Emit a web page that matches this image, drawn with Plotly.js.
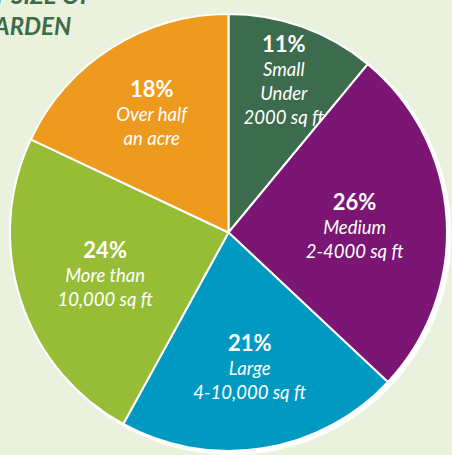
<!DOCTYPE html>
<html>
<head>
<meta charset="utf-8">
<script src="https://cdn.plot.ly/plotly-3.0.1.min.js"></script>
<style>html,body{margin:0;padding:0;background:#eaf1dc;}#chart{width:452px;height:455px;}</style>
</head>
<body>
<div id="chart"></div>
<script>
// Data
const categories = ["Small<br>Under<br>2000 sq ft", "Medium<br>2-4000 sq ft", "Large<br>4-10,000 sq ft", "More than<br>10,000 sq ft", "Over half<br>an acre"];
const percentages = [11, 26, 21, 24, 18];
const sliceColors = ["#3d6b4d", "#7b1674", "#0099c1", "#97bc35", "#ee9a1f"];
const titleLines = ["BY SIZE OF", "GARDEN"];

const trace = {
  type: "pie",
  labels: categories,
  values: percentages,
  sort: false,
  direction: "clockwise",
  rotation: 0,
  marker: { colors: sliceColors, line: { color: "#ffffff", width: 2 } },
  texttemplate: '<b><span style="font-size:22px;font-style:normal">%{value}%</span></b><br><i>%{label}</i>',
  textposition: "inside",
  insidetextorientation: "horizontal",
  insidetextfont: { family: "Lato, 'Open Sans', sans-serif", size: 18.5, color: "#ffffff" },
  hoverinfo: "none",
  showlegend: false,
  domain: { x: [10/452, 447/452], y: [1 - 452/455, 1 - 13/455] }
};

const layout = {
  width: 452,
  height: 455,
  margin: { l: 0, r: 0, t: 0, b: 0 },
  paper_bgcolor: "#eaf1dc",
  plot_bgcolor: "#eaf1dc",
  showlegend: false,
  uniformtext: { mode: "show", minsize: 18.5 },
  shapes: [{
    type: "circle", xref: "paper", yref: "paper", layer: "below",
    x0: 11.5/452, x1: 451.5/452, y0: 0.0/455, y1: 440/455,
    fillcolor: "#ffffff", line: { width: 0 }
  }],
  annotations: [{
    xref: "paper", yref: "paper", x: -24/452, y: 1 + 22/455,
    xanchor: "left", yanchor: "top", align: "left", showarrow: false,
    text: "<b><i>" + titleLines.join("<br>") + "</i></b>",
    font: { family: "Lato, sans-serif", size: 24, color: "#3d6b4a" }
  }]
};

Plotly.newPlot("chart", [trace], layout, { displayModeBar: false, staticPlot: true });
</script>
</body>
</html>
